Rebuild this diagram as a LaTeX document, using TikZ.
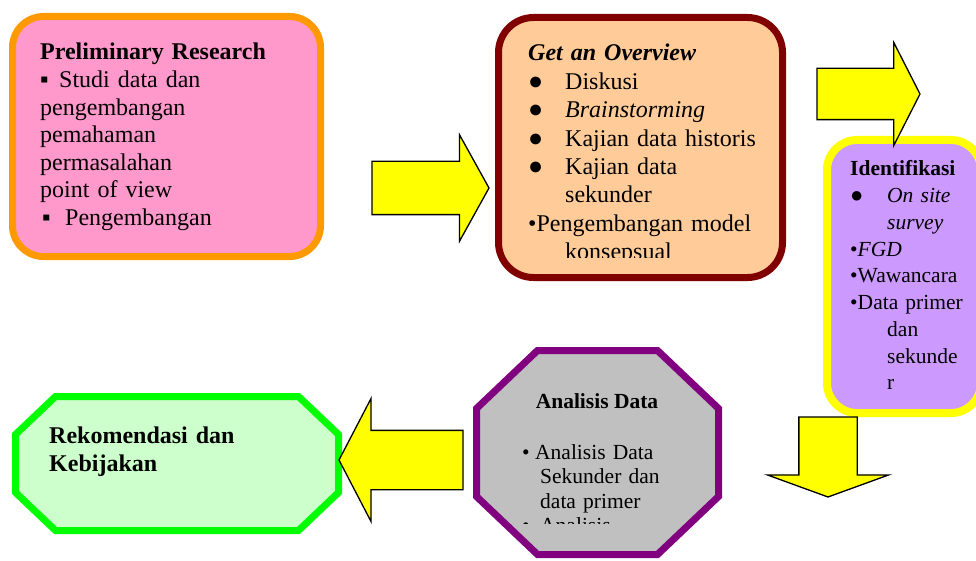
\documentclass[tikz,border=0pt]{standalone}
\usepackage{fontspec}
\setmainfont{Liberation Serif}
\usetikzlibrary{shapes.arrows}
\definecolor{pinkfill}{HTML}{FF99CC}
\definecolor{orangeline}{HTML}{FF9900}
\definecolor{peachfill}{HTML}{FFCC99}
\definecolor{maroonline}{HTML}{800000}
\definecolor{lilacfill}{HTML}{CC99FF}
\definecolor{yellowline}{HTML}{FFFF00}
\definecolor{greyfill}{HTML}{C0C0C0}
\definecolor{purpleline}{HTML}{800080}
\definecolor{mintfill}{HTML}{CCFFCC}
\definecolor{greenline}{HTML}{00FF00}
\newcommand{\bul}[1]{\makebox[#1][l]{\textbullet}}
\newcommand{\bigbul}[1]{\makebox[#1][l]{{\fontsize{25pt}{25pt}\selectfont ●}}}

\begin{document}
\begin{tikzpicture}[x=1pt,y=-1pt,
roundbox/.style={rounded corners=#1,line width=7pt,inner sep=0pt,outer sep=0pt},
octbox/.style={line width=7pt,line join=miter},
blockarrow/.style={single arrow,draw=black,fill=yellowline,line width=1.3pt,
  inner xsep=0pt,outer sep=0pt,anchor=tip},
txt/.style={anchor=base west,inner sep=0pt,align=left,text width=#1},
big/.style={font=\fontsize{24pt}{27.6pt}\selectfont},
small/.style={font=\fontsize{21.5pt}{24.5pt}\selectfont}]
\useasboundingbox (0,0) rectangle (976,561);

% preliminary research
\node[roundbox=31pt,draw=orangeline,fill=pinkfill,minimum width=308pt,
  minimum height=240pt] (prelim) at (166.5,136.5) {};
\node[txt=270pt,big] (prelimtxt) at (40,60) {\textbf{Preliminary Research}\\
\makebox[19pt][l]{▪}Studi data dan\\
pengembangan\\
pemahaman\\
permasalahan\\
point of view\\
\hspace*{2pt}\makebox[23pt][l]{▪}Pengembangan};

\node[blockarrow,inner ysep=26pt,single arrow head extend=26.5pt,
  single arrow tip angle=122,minimum height=117pt] (arrA) at (489,188) {};

% get an overview
\node[roundbox=35pt,draw=maroonline,fill=peachfill,minimum width=284pt,
  minimum height=260pt] (overview) at (640.5,147.5) {};
\begin{scope}
\clip (500,20) rectangle (780,257);
\node[txt=260pt,font=\fontsize{24pt}{28.4pt}\selectfont] (overtxt) at (528,61)
{\textbf{\textit{Get an Overview}}\\
\bigbul{37pt}Diskusi\\
\bigbul{37pt}\textit{Brainstorming}\\
\bigbul{37pt}Kajian data historis\\
\bigbul{37pt}Kajian data\\
\hspace*{37pt}sekunder\\
\textbullet Pengembangan model\\
\hspace*{37pt}konsepsual};
\end{scope}

% identifikasi
\node[roundbox=30pt,draw=yellowline,fill=lilacfill,line width=8pt,
  minimum width=154pt,minimum height=273pt] (identif) at (904,276.5) {};
\node[txt=130pt,font=\fontsize{21.5pt}{26.75pt}\selectfont] (identtxt) at (850,176)
{\textbf{Identifikasi}\\
\makebox[37pt][l]{{\fontsize{22pt}{22pt}\selectfont ●}}\makebox[73pt][s]{\textit{On site}}\\
\hspace*{37pt}\textit{survey}\\
\textbullet\textit{FGD}\\
\textbullet Wawancara\\
\textbullet Data primer\\
\hspace*{37pt}dan\\
\hspace*{37pt}sekunde\\
\hspace*{37pt}r};

\node[blockarrow,inner ysep=25pt,single arrow head extend=26pt,
  single arrow tip angle=126,minimum height=103pt] (arrB) at (920,94) {};
\node[blockarrow,rotate=-90,inner ysep=28.5pt,single arrow head extend=31.5pt,
  single arrow tip angle=140,minimum height=80pt] (arrC) at (828,497) {};

% analisis data
\node[inner sep=0pt,outer sep=0pt,minimum width=242pt,minimum height=204pt]
  (analisis) at (597.5,452.5) {};
\draw[octbox,draw=purpleline,fill=greyfill] (analisis.north west) ++(61,0)
  -- ++(120,0) -- ++(61,58) -- ++(0,88) -- ++(-61,58) -- ++(-120,0)
  -- ++(-61,-58) -- ++(0,-88) -- cycle;
\node[anchor=base,inner sep=0pt,small] (analtitle) at (597,408) {\textbf{Analisis Data}};
\begin{scope}
\clip (480,420) rectangle (715,523);
\node[txt=180pt,small] (analtxt) at (522,459)
{\bul{13pt}Analisis Data\\
\hspace*{18pt}Sekunder dan\\
\hspace*{18pt}data primer\\
\bul{18pt}Analisis};
\end{scope}

% rekomendasi
\node[inner sep=0pt,outer sep=0pt,minimum width=323pt,minimum height=134pt]
  (rekom) at (177,463.5) {};
\draw[octbox,draw=greenline,fill=mintfill] (rekom.north west) ++(40,0)
  -- ++(243,0) -- ++(40,38) -- ++(0,58) -- ++(-40,38) -- ++(-243,0)
  -- ++(-40,-38) -- ++(0,-58) -- cycle;
\node[txt=250pt,font=\fontsize{24pt}{28pt}\selectfont\bfseries] (rekomtxt) at (49,443)
{Rekomendasi dan\\Kebijakan};

\node[blockarrow,rotate=180,inner ysep=29pt,single arrow head extend=32pt,
  single arrow tip angle=125,minimum height=124pt] (arrD) at (339,460) {};
\end{tikzpicture}
\end{document}
